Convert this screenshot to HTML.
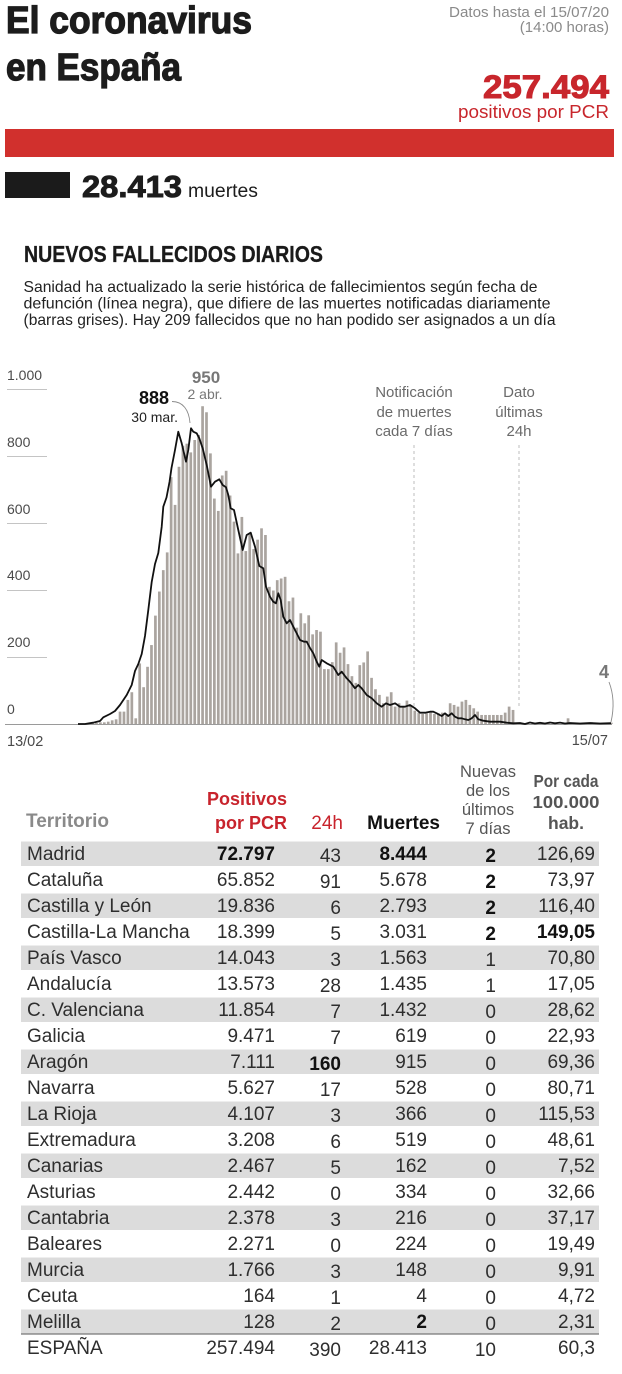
<!DOCTYPE html>
<html><head><meta charset="utf-8">
<style>
html,body{margin:0;padding:0;background:#fff;}
svg{display:block;font-family:"Liberation Sans","DejaVu Sans",sans-serif;}
.b{font-weight:bold;}
.row text{font-size:19px;fill:#2e2e2e;}
.row .k{font-weight:bold;fill:#111;}
.ax{font-size:14px;fill:#4a4a4a;}
.note{font-size:15px;fill:#6a6a6a;}
</style></head>
<body>
<svg width="622" height="1374" viewBox="0 0 622 1374" xmlns="http://www.w3.org/2000/svg">
<rect width="622" height="1374" fill="#fff"/>

<!-- Header -->
<text x="6" y="33" font-size="38" class="b" fill="#1c1c1c" stroke="#1c1c1c" stroke-width="1.3" textLength="246" lengthAdjust="spacingAndGlyphs">El coronavirus</text>
<text x="6" y="80" font-size="38" class="b" fill="#1c1c1c" stroke="#1c1c1c" stroke-width="1.3" textLength="175" lengthAdjust="spacingAndGlyphs">en España</text>
<text x="609" y="17" font-size="15" fill="#8a8a8a" text-anchor="end" textLength="160" lengthAdjust="spacingAndGlyphs">Datos hasta el 15/07/20</text>
<text x="609" y="32" font-size="15" fill="#8a8a8a" text-anchor="end">(14:00 horas)</text>
<text x="609" y="98" font-size="32" class="b" fill="#c8262c" stroke="#c8262c" stroke-width="1" text-anchor="end" textLength="126" lengthAdjust="spacingAndGlyphs">257.494</text>
<text x="609" y="118" font-size="18" fill="#c8262c" text-anchor="end" textLength="151" lengthAdjust="spacingAndGlyphs">positivos por PCR</text>
<rect x="5" y="129" width="609" height="28" fill="#d1302d"/>
<rect x="5" y="172" width="65" height="26" fill="#1b1b1b"/>
<text x="82" y="197" font-size="31" class="b" fill="#1c1c1c" stroke="#1c1c1c" stroke-width="1" textLength="100" lengthAdjust="spacingAndGlyphs">28.413</text>
<text x="188" y="197" font-size="19" fill="#1c1c1c" textLength="70" lengthAdjust="spacingAndGlyphs">muertes</text>

<!-- Section title -->
<text x="24" y="262" font-size="23" class="b" fill="#1a1a1a" stroke="#1a1a1a" stroke-width="0.3" textLength="299" lengthAdjust="spacingAndGlyphs">NUEVOS FALLECIDOS DIARIOS</text>
<text x="23.5" y="292" font-size="16" fill="#222" textLength="514" lengthAdjust="spacingAndGlyphs">Sanidad ha actualizado la serie histórica de fallecimientos según fecha de</text>
<text x="23.5" y="308.5" font-size="16" fill="#222" textLength="527" lengthAdjust="spacingAndGlyphs">defunción (línea negra), que difiere de las muertes notificadas diariamente</text>
<text x="23.5" y="325" font-size="16" fill="#222" textLength="532" lengthAdjust="spacingAndGlyphs">(barras grises). Hay 209 fallecidos que no han podido ser asignados a un día</text>

<!-- Chart axes -->
<g stroke="#c4c4c4" stroke-width="1">
<line x1="7" y1="389.5" x2="47" y2="389.5"/>
<line x1="7" y1="456.5" x2="47" y2="456.5"/>
<line x1="7" y1="523.5" x2="47" y2="523.5"/>
<line x1="7" y1="590.5" x2="47" y2="590.5"/>
<line x1="7" y1="657.5" x2="47" y2="657.5"/>
</g>
<g class="ax">
<text x="7" y="380">1.000</text>
<text x="7" y="447">800</text>
<text x="7" y="514">600</text>
<text x="7" y="580">400</text>
<text x="7" y="647">200</text>
<text x="7" y="714">0</text>
<text x="7" y="746" font-size="14.5">13/02</text>
<text x="608" y="745" font-size="14.5" text-anchor="end">15/07</text>
</g>

<!-- Dashed lines -->
<line x1="414" y1="445" x2="414" y2="706" stroke="#bdbdbd" stroke-width="1" stroke-dasharray="3,3"/>
<line x1="519" y1="445" x2="519" y2="708" stroke="#bdbdbd" stroke-width="1" stroke-dasharray="3,3"/>
<g class="note" text-anchor="middle">
<text x="414" y="397">Notificación</text>
<text x="414" y="417">de muertes</text>
<text x="414" y="436">cada 7 días</text>
<text x="519" y="397">Dato</text>
<text x="519" y="417">últimas</text>
<text x="519" y="436">24h</text>
</g>

<!-- Bars -->
<g fill="#aaa49f">
<rect x="91.18" y="723.33" width="2.7" height="0.67"/>
<rect x="95.11" y="723" width="2.7" height="1"/>
<rect x="99.04" y="722.33" width="2.7" height="1.67"/>
<rect x="102.97" y="722.33" width="2.7" height="1.67"/>
<rect x="106.9" y="721.66" width="2.7" height="2.34"/>
<rect x="110.83" y="720.32" width="2.7" height="3.68"/>
<rect x="114.76" y="719.32" width="2.7" height="4.68"/>
<rect x="118.69" y="711.62" width="2.7" height="12.38"/>
<rect x="122.62" y="711.62" width="2.7" height="12.38"/>
<rect x="126.55" y="699.92" width="2.7" height="24.08"/>
<rect x="130.48" y="692.22" width="2.7" height="31.78"/>
<rect x="134.41" y="718.31" width="2.7" height="5.69"/>
<rect x="138.34" y="663.46" width="2.7" height="60.54"/>
<rect x="142.27" y="687.2" width="2.7" height="36.8"/>
<rect x="146.2" y="666.8" width="2.7" height="57.2"/>
<rect x="150.13" y="645.06" width="2.7" height="78.94"/>
<rect x="154.06" y="615.62" width="2.7" height="108.38"/>
<rect x="157.99" y="591.54" width="2.7" height="132.46"/>
<rect x="161.92" y="570.13" width="2.7" height="153.87"/>
<rect x="165.85" y="552.4" width="2.7" height="171.6"/>
<rect x="169.78" y="477.14" width="2.7" height="246.86"/>
<rect x="173.71" y="504.9" width="2.7" height="219.1"/>
<rect x="177.64" y="466.77" width="2.7" height="257.23"/>
<rect x="181.57" y="445.7" width="2.7" height="278.3"/>
<rect x="185.5" y="443.69" width="2.7" height="280.31"/>
<rect x="189.43" y="452.39" width="2.7" height="271.61"/>
<rect x="193.36" y="440.01" width="2.7" height="283.99"/>
<rect x="197.29" y="434.99" width="2.7" height="289.01"/>
<rect x="201.22" y="406.22" width="2.7" height="317.78"/>
<rect x="205.15" y="412.25" width="2.7" height="311.75"/>
<rect x="209.08" y="453.39" width="2.7" height="270.61"/>
<rect x="213.01" y="498.55" width="2.7" height="225.45"/>
<rect x="216.94" y="510.92" width="2.7" height="213.08"/>
<rect x="220.87" y="475.47" width="2.7" height="248.53"/>
<rect x="224.8" y="470.78" width="2.7" height="253.22"/>
<rect x="228.73" y="495.54" width="2.7" height="228.46"/>
<rect x="232.66" y="521.63" width="2.7" height="202.37"/>
<rect x="236.59" y="553.4" width="2.7" height="170.6"/>
<rect x="240.52" y="516.94" width="2.7" height="207.06"/>
<rect x="244.45" y="551.06" width="2.7" height="172.94"/>
<rect x="248.38" y="534.34" width="2.7" height="189.66"/>
<rect x="252.31" y="549.06" width="2.7" height="174.94"/>
<rect x="256.24" y="539.69" width="2.7" height="184.31"/>
<rect x="260.17" y="528.32" width="2.7" height="195.68"/>
<rect x="264.1" y="535.01" width="2.7" height="188.99"/>
<rect x="268.03" y="586.85" width="2.7" height="137.15"/>
<rect x="271.96" y="590.53" width="2.7" height="133.47"/>
<rect x="275.89" y="580.16" width="2.7" height="143.84"/>
<rect x="279.82" y="578.49" width="2.7" height="145.51"/>
<rect x="283.75" y="576.82" width="2.7" height="147.18"/>
<rect x="287.68" y="601.24" width="2.7" height="122.76"/>
<rect x="291.61" y="597.56" width="2.7" height="126.44"/>
<rect x="295.54" y="627.66" width="2.7" height="96.34"/>
<rect x="299.47" y="613.28" width="2.7" height="110.72"/>
<rect x="303.4" y="623.32" width="2.7" height="100.68"/>
<rect x="307.33" y="615.29" width="2.7" height="108.71"/>
<rect x="311.26" y="634.35" width="2.7" height="89.65"/>
<rect x="315.19" y="630.01" width="2.7" height="93.99"/>
<rect x="319.12" y="631.68" width="2.7" height="92.32"/>
<rect x="323.05" y="669.14" width="2.7" height="54.86"/>
<rect x="326.98" y="669.14" width="2.7" height="54.86"/>
<rect x="330.91" y="662.12" width="2.7" height="61.88"/>
<rect x="334.84" y="642.38" width="2.7" height="81.62"/>
<rect x="338.77" y="652.75" width="2.7" height="71.25"/>
<rect x="342.7" y="647.4" width="2.7" height="76.6"/>
<rect x="346.63" y="664.12" width="2.7" height="59.88"/>
<rect x="350.56" y="676.17" width="2.7" height="47.83"/>
<rect x="354.49" y="682.86" width="2.7" height="41.14"/>
<rect x="358.42" y="665.13" width="2.7" height="58.87"/>
<rect x="362.35" y="662.45" width="2.7" height="61.55"/>
<rect x="366.28" y="651.41" width="2.7" height="72.59"/>
<rect x="370.21" y="677.84" width="2.7" height="46.16"/>
<rect x="374.14" y="689.21" width="2.7" height="34.79"/>
<rect x="378.07" y="694.9" width="2.7" height="29.1"/>
<rect x="382" y="703.26" width="2.7" height="20.74"/>
<rect x="385.93" y="696.57" width="2.7" height="27.43"/>
<rect x="389.86" y="692.22" width="2.7" height="31.78"/>
<rect x="393.79" y="706.61" width="2.7" height="17.39"/>
<rect x="397.72" y="703.26" width="2.7" height="20.74"/>
<rect x="401.65" y="706.61" width="2.7" height="17.39"/>
<rect x="405.58" y="700.58" width="2.7" height="23.42"/>
<rect x="409.51" y="704.93" width="2.7" height="19.07"/>
<rect x="413.44" y="710.62" width="2.7" height="13.38"/>
<rect x="417.37" y="712.63" width="2.7" height="11.37"/>
<rect x="421.3" y="713.96" width="2.7" height="10.04"/>
<rect x="425.23" y="713.3" width="2.7" height="10.7"/>
<rect x="429.16" y="712.63" width="2.7" height="11.37"/>
<rect x="433.09" y="713.96" width="2.7" height="10.04"/>
<rect x="437.02" y="713.3" width="2.7" height="10.7"/>
<rect x="440.95" y="712.63" width="2.7" height="11.37"/>
<rect x="444.88" y="713.96" width="2.7" height="10.04"/>
<rect x="448.81" y="703.26" width="2.7" height="20.74"/>
<rect x="452.74" y="704.93" width="2.7" height="19.07"/>
<rect x="456.67" y="706.61" width="2.7" height="17.39"/>
<rect x="460.6" y="701.59" width="2.7" height="22.41"/>
<rect x="464.53" y="699.92" width="2.7" height="24.08"/>
<rect x="468.46" y="704.93" width="2.7" height="19.07"/>
<rect x="472.39" y="708.28" width="2.7" height="15.72"/>
<rect x="476.32" y="711.62" width="2.7" height="12.38"/>
<rect x="480.25" y="714.97" width="2.7" height="9.03"/>
<rect x="484.18" y="714.97" width="2.7" height="9.03"/>
<rect x="488.11" y="714.97" width="2.7" height="9.03"/>
<rect x="492.04" y="714.97" width="2.7" height="9.03"/>
<rect x="495.97" y="714.97" width="2.7" height="9.03"/>
<rect x="499.9" y="714.97" width="2.7" height="9.03"/>
<rect x="503.83" y="712.63" width="2.7" height="11.37"/>
<rect x="507.76" y="706.61" width="2.7" height="17.39"/>
<rect x="511.69" y="709.95" width="2.7" height="14.05"/>
<rect x="531.34" y="723" width="2.7" height="1"/>
<rect x="547.06" y="722.66" width="2.7" height="1.34"/>
<rect x="566.71" y="718.31" width="2.7" height="5.69"/>
<rect x="590.29" y="722.33" width="2.7" height="1.67"/>
<rect x="609.94" y="722.66" width="2.7" height="1.34"/>
</g>

<!-- baseline -->
<line x1="5" y1="724.5" x2="612" y2="724.5" stroke="#9a9a9a" stroke-width="1"/>

<!-- death-date line -->
<polyline fill="none" stroke="#111" stroke-width="1.8" stroke-linejoin="round" points="78,724 85,724 93,722.7 100,721 103.3,717.3 110,714 115,711 120,705 126.7,695 131.7,685 135,671 138.3,664 141.7,654 145,636 148.3,610 151.7,582 155,564 158.3,553 161.7,526.7 163.3,506.7 166.5,497.5 169.5,482 171.5,468 175,450 178.3,431.7 181.7,443.3 186,461.7 188.3,450 191,428.3 193.3,431.7 196.7,433.3 199.3,438.3 202.7,448.3 206.7,465 211,486.7 215,481.7 219.3,479.3 222.7,485 226,487.3 228.3,495 230.7,508.3 234,510 238.3,530 242.7,550 246.7,535 250.7,532.7 255,546.7 259.3,566 263.3,568.3 266,586.7 270,596.7 273.3,601.7 276,603.3 278.3,593.3 280.7,600 283.3,616.7 286.7,623.3 290,620 293.3,626.7 296.7,633.3 300,640 304,641.7 306.7,641.7 310,648 313.3,653.3 316.7,661.7 319.3,666.7 321.7,660 326.7,663.3 333.3,666.7 338.3,675 341.7,671.7 346.7,678.3 350,681.7 355,688.3 358.3,685 361.7,688.3 366.7,695 371.7,698.3 376.7,703.3 381.7,706.7 386,703.3 390,705 395,703.3 400,706.7 405,706.7 410,705 415,708.3 420,712.7 425,712.7 430,711.7 433.3,711.7 436.7,713.3 441.7,716 445,713.3 448.3,716 451.7,713.3 455,716.7 458.3,718.3 461.7,718.3 465,719.3 468.3,720 471.7,718.3 475,715 478.3,719.3 483.3,720.7 490,721.7 500,721.7 506.7,722.7 513.3,723.3 520,723 525,724 530,722.5 535,723.5 540,722.8 545,723.5 550,722.5 555,723.3 560,722.6 565,723.5 570,723 580,723.5 590,723 600,723.5 611,723.2"/>

<!-- Annotations -->
<text x="206" y="383" font-size="17" class="b" fill="#777" text-anchor="middle">950</text>
<text x="205" y="399" font-size="14" fill="#777" text-anchor="middle">2 abr.</text>
<text x="169" y="404" font-size="18" class="b" fill="#111" text-anchor="end">888</text>
<text x="178" y="422" font-size="14" fill="#222" text-anchor="end">30 mar.</text>
<path d="M172,401.5 C183,401.5 189,410 190,423" fill="none" stroke="#8a8a8a" stroke-width="0.9"/>
<text x="604" y="678" font-size="18" class="b" fill="#777" text-anchor="middle">4</text>
<path d="M609,682 Q616,700 611,722" fill="none" stroke="#8a8a8a" stroke-width="0.9"/>

<!-- Table -->
<g fill="#dcdcdc">
<rect x="21" y="841.5" width="578" height="24.5"/>
<rect x="21" y="893.5" width="578" height="24.5"/>
<rect x="21" y="945.5" width="578" height="24.5"/>
<rect x="21" y="997.5" width="578" height="24.5"/>
<rect x="21" y="1049.5" width="578" height="24.5"/>
<rect x="21" y="1101.5" width="578" height="24.5"/>
<rect x="21" y="1153.5" width="578" height="24.5"/>
<rect x="21" y="1205.5" width="578" height="24.5"/>
<rect x="21" y="1257.5" width="578" height="24.5"/>
<rect x="21" y="1309.5" width="578" height="24.5"/>
</g>
<line x1="21" y1="1334" x2="599" y2="1334" stroke="#777" stroke-width="1.3"/>

<!-- Table header -->
<text x="26" y="827" font-size="19" class="b" fill="#8a8a8a">Territorio</text>
<text x="287" y="805" font-size="18" class="b" fill="#c8232c" text-anchor="end">Positivos</text>
<text x="287" y="829" font-size="18" class="b" fill="#c8232c" text-anchor="end">por PCR</text>
<text x="343" y="829" font-size="19" fill="#c8232c" text-anchor="end">24h</text>
<text x="440" y="829" font-size="19" class="b" fill="#111" text-anchor="end">Muertes</text>
<g font-size="16.5" fill="#555" text-anchor="middle">
<text x="488" y="777">Nuevas</text>
<text x="488" y="796">de los</text>
<text x="488" y="815">últimos</text>
<text x="488" y="834">7 días</text>
</g>
<g font-size="17.5" class="b" fill="#555" text-anchor="middle">
<text x="566" y="787" textLength="65" lengthAdjust="spacingAndGlyphs">Por cada</text>
<text x="566" y="808" textLength="67" lengthAdjust="spacingAndGlyphs">100.000</text>
<text x="566" y="829">hab.</text>
</g>

<!-- Names -->
<g class="row">
<text x="27" y="860">Madrid</text>
<text x="27" y="886">Cataluña</text>
<text x="27" y="912">Castilla y León</text>
<text x="27" y="938">Castilla-La Mancha</text>
<text x="27" y="964">País Vasco</text>
<text x="27" y="990">Andalucía</text>
<text x="27" y="1016">C. Valenciana</text>
<text x="27" y="1042">Galicia</text>
<text x="27" y="1068">Aragón</text>
<text x="27" y="1094">Navarra</text>
<text x="27" y="1120">La Rioja</text>
<text x="27" y="1146">Extremadura</text>
<text x="27" y="1172">Canarias</text>
<text x="27" y="1198">Asturias</text>
<text x="27" y="1224">Cantabria</text>
<text x="27" y="1250">Baleares</text>
<text x="27" y="1276">Murcia</text>
<text x="27" y="1302">Ceuta</text>
<text x="27" y="1328">Melilla</text>
<text x="27" y="1354">ESPAÑA</text>
</g>

<!-- Positivos -->
<g class="row" text-anchor="end">
<text x="275" y="860" class="k">72.797</text>
<text x="275" y="886">65.852</text>
<text x="275" y="912">19.836</text>
<text x="275" y="938">18.399</text>
<text x="275" y="964">14.043</text>
<text x="275" y="990">13.573</text>
<text x="275" y="1016">11.854</text>
<text x="275" y="1042">9.471</text>
<text x="275" y="1068">7.111</text>
<text x="275" y="1094">5.627</text>
<text x="275" y="1120">4.107</text>
<text x="275" y="1146">3.208</text>
<text x="275" y="1172">2.467</text>
<text x="275" y="1198">2.442</text>
<text x="275" y="1224">2.378</text>
<text x="275" y="1250">2.271</text>
<text x="275" y="1276">1.766</text>
<text x="275" y="1302">164</text>
<text x="275" y="1328">128</text>
<text x="275" y="1354">257.494</text>
</g>

<!-- 24h -->
<g class="row" text-anchor="end">
<text x="341" y="862">43</text>
<text x="341" y="888">91</text>
<text x="341" y="914">6</text>
<text x="341" y="940">5</text>
<text x="341" y="966">3</text>
<text x="341" y="992">28</text>
<text x="341" y="1018">7</text>
<text x="341" y="1044">7</text>
<text x="341" y="1070" class="k">160</text>
<text x="341" y="1096">17</text>
<text x="341" y="1122">3</text>
<text x="341" y="1148">6</text>
<text x="341" y="1174">5</text>
<text x="341" y="1200">0</text>
<text x="341" y="1226">3</text>
<text x="341" y="1252">0</text>
<text x="341" y="1278">3</text>
<text x="341" y="1304">1</text>
<text x="341" y="1330">2</text>
<text x="341" y="1356">390</text>
</g>

<!-- Muertes -->
<g class="row" text-anchor="end">
<text x="427" y="860" class="k">8.444</text>
<text x="427" y="886">5.678</text>
<text x="427" y="912">2.793</text>
<text x="427" y="938">3.031</text>
<text x="427" y="964">1.563</text>
<text x="427" y="990">1.435</text>
<text x="427" y="1016">1.432</text>
<text x="427" y="1042">619</text>
<text x="427" y="1068">915</text>
<text x="427" y="1094">528</text>
<text x="427" y="1120">366</text>
<text x="427" y="1146">519</text>
<text x="427" y="1172">162</text>
<text x="427" y="1198">334</text>
<text x="427" y="1224">216</text>
<text x="427" y="1250">224</text>
<text x="427" y="1276">148</text>
<text x="427" y="1302">4</text>
<text x="427" y="1328" class="k">2</text>
<text x="427" y="1354">28.413</text>
</g>

<!-- Nuevas -->
<g class="row" text-anchor="end">
<text x="496" y="862" class="k">2</text>
<text x="496" y="888" class="k">2</text>
<text x="496" y="914" class="k">2</text>
<text x="496" y="940" class="k">2</text>
<text x="496" y="966">1</text>
<text x="496" y="992">1</text>
<text x="496" y="1018">0</text>
<text x="496" y="1044">0</text>
<text x="496" y="1070">0</text>
<text x="496" y="1096">0</text>
<text x="496" y="1122">0</text>
<text x="496" y="1148">0</text>
<text x="496" y="1174">0</text>
<text x="496" y="1200">0</text>
<text x="496" y="1226">0</text>
<text x="496" y="1252">0</text>
<text x="496" y="1278">0</text>
<text x="496" y="1304">0</text>
<text x="496" y="1330">0</text>
<text x="496" y="1356">10</text>
</g>

<!-- Por cada -->
<g class="row" text-anchor="end">
<text x="595" y="860">126,69</text>
<text x="595" y="886">73,97</text>
<text x="595" y="912">116,40</text>
<text x="595" y="938" class="k">149,05</text>
<text x="595" y="964">70,80</text>
<text x="595" y="990">17,05</text>
<text x="595" y="1016">28,62</text>
<text x="595" y="1042">22,93</text>
<text x="595" y="1068">69,36</text>
<text x="595" y="1094">80,71</text>
<text x="595" y="1120">115,53</text>
<text x="595" y="1146">48,61</text>
<text x="595" y="1172">7,52</text>
<text x="595" y="1198">32,66</text>
<text x="595" y="1224">37,17</text>
<text x="595" y="1250">19,49</text>
<text x="595" y="1276">9,91</text>
<text x="595" y="1302">4,72</text>
<text x="595" y="1328">2,31</text>
<text x="595" y="1354">60,3</text>
</g>
</svg>
</body></html>
